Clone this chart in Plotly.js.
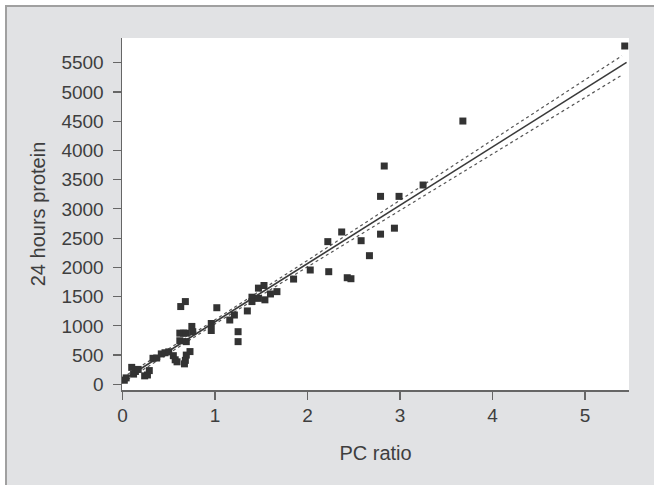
<!DOCTYPE html>
<html>
<head>
<meta charset="utf-8">
<script src="https://cdn.plot.ly/plotly-3.0.1.min.js"></script>
<style>
  html, body { margin: 0; padding: 0; background: #ffffff; }
  #frame {
    position: absolute; left: 5px; top: 5px; width: 649px; height: 480px;
    box-sizing: border-box; border-left: 2px solid #a0a0a0; border-top: 2px solid #a0a0a0;
    background: #e1e2e4;
  }
  #chart { position: absolute; left: 0; top: 0; width: 647px; height: 478px; }
</style>
</head>
<body>
<div id="frame"><div id="chart"></div></div>
<script>
// Observed data points (PC ratio vs 24 hours protein)
const pcRatio = [0.02, 0.04, 0.10, 0.12, 0.14, 0.17, 0.24, 0.27, 0.29, 0.33, 0.37, 0.42, 0.46, 0.50,
  0.55, 0.57, 0.59, 0.62, 0.62, 0.66, 0.68, 0.69, 0.69, 0.69, 0.67, 0.73, 0.75, 0.76, 0.63, 0.68,
  0.96, 0.96, 1.02, 1.16, 1.21, 1.25, 1.25, 1.35, 1.40, 1.40, 1.47, 1.47, 1.53, 1.54, 1.60, 1.67,
  1.85, 2.03, 2.23, 2.22, 2.37, 2.43, 2.47, 2.58, 2.67, 2.79, 2.79, 2.83, 2.94, 2.99, 3.25, 3.68, 5.43];
const protein24h = [70, 110, 290, 175, 220, 255, 145, 160, 235, 445, 450, 520, 540, 555,
  490, 420, 385, 745, 875, 875, 410, 500, 875, 730, 350, 560, 990, 900, 1330, 1415,
  1040, 920, 1310, 1100, 1185, 900, 730, 1255, 1490, 1415, 1645, 1470, 1690, 1445, 1545, 1585,
  1800, 1955, 1926, 2440, 2605, 1823, 1806, 2456, 2200, 2568, 3214, 3733, 2670, 3214, 3408, 4502, 5785];

// Regression line and confidence band
const fitX = [0, 5.45];
const fitY = [70, 5505];
const bandX = [0, 1, 2, 3, 4, 5.4];
const bandUpper = [115, 1102, 2119, 3146, 4178, 5619];
const bandLower = [25, 1032, 2009, 2976, 3938, 5289];

// Axis ticks
const xTicks = [0, 1, 2, 3, 4, 5];
const yTicks = [0, 500, 1000, 1500, 2000, 2500, 3000, 3500, 4000, 4500, 5000, 5500];

const font = { family: 'Liberation Sans, Arial, sans-serif', size: 19, color: '#3e3e3e' };
const titleFont = { family: 'Liberation Sans, Arial, sans-serif', size: 20, color: '#3e3e3e' };

const traces = [
  { x: bandX, y: bandUpper, mode: 'lines', line: { color: '#555', width: 1.2, dash: 'dot' }, hoverinfo: 'skip' },
  { x: bandX, y: bandLower, mode: 'lines', line: { color: '#555', width: 1.2, dash: 'dot' }, hoverinfo: 'skip' },
  { x: fitX, y: fitY, mode: 'lines', line: { color: '#3a3a3a', width: 1.6 }, hoverinfo: 'skip' },
  { x: pcRatio, y: protein24h, mode: 'markers', marker: { symbol: 'square', size: 7, color: '#333333' } }
];

const layout = {
  width: 647, height: 478,
  margin: { l: 115, r: 25, t: 31, b: 95 },
  paper_bgcolor: '#e1e2e4', plot_bgcolor: '#ffffff',
  showlegend: false,
  font: font,
  xaxis: {
    range: [-0.005, 5.476], tickvals: xTicks, ticktext: xTicks.map(String),
    showgrid: false, zeroline: false, showline: true, linecolor: '#666', linewidth: 1.5,
    ticks: 'outside', ticklen: 8, tickcolor: '#666', tickwidth: 1.2,
    tickfont: font,
    title: { text: 'PC ratio', font: titleFont, standoff: 20 }
  },
  yaxis: {
    range: [-97, 5922], tickvals: yTicks, ticktext: yTicks.map(String),
    showgrid: false, zeroline: false, showline: true, linecolor: '#666', linewidth: 1.5,
    ticks: 'outside', ticklen: 8, tickcolor: '#666', tickwidth: 1.2,
    ticklabelstandoff: 5,
    tickfont: font,
    title: { text: '24 hours protein', font: titleFont, standoff: 10 }
  }
};

Plotly.newPlot('chart', traces, layout, { staticPlot: true, displayModeBar: false });
</script>
</body>
</html>
